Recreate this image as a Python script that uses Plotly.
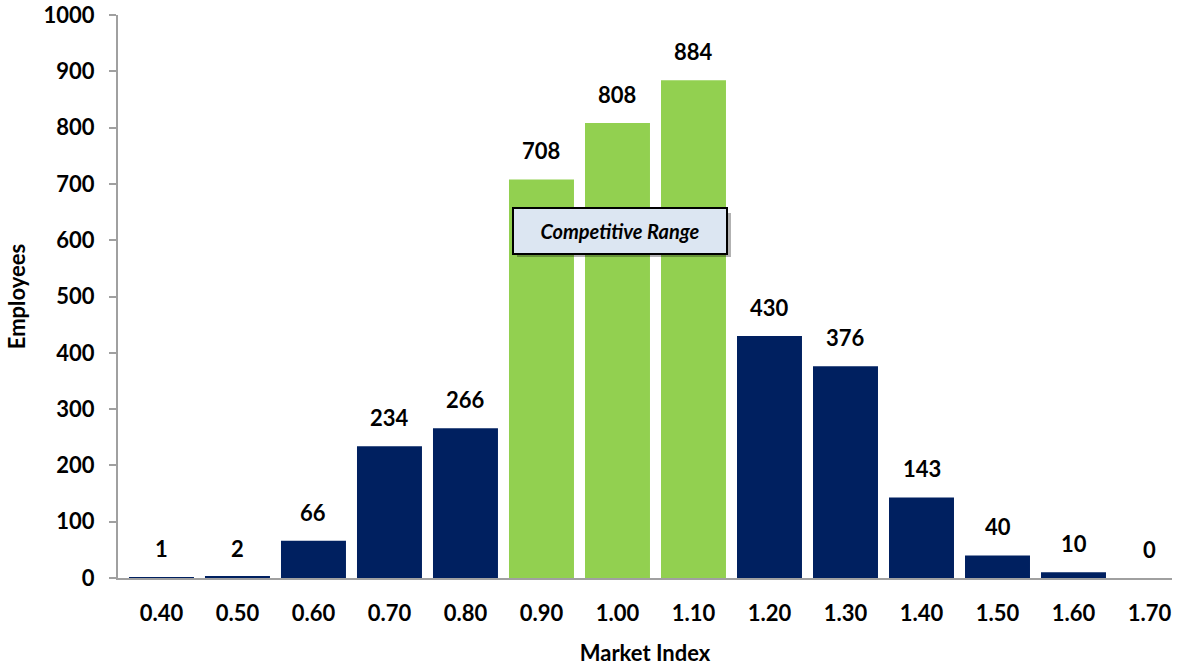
import plotly.graph_objects as go

categories = ["0.40", "0.50", "0.60", "0.70", "0.80", "0.90", "1.00", "1.10",
              "1.20", "1.30", "1.40", "1.50", "1.60", "1.70"]
employees = [1, 2, 66, 234, 266, 708, 808, 884, 430, 376, 143, 40, 10, 0]
competitive = ["0.90", "1.00", "1.10"]
y_ticks = [0, 100, 200, 300, 400, 500, 600, 700, 800, 900, 1000]

NAVY = "#002060"
GREEN = "#92D050"
FONT = "Lato"
AXIS = "#A0A0A0"

colors = [GREEN if c in competitive else NAVY for c in categories]

fig = go.Figure()
fig.add_trace(go.Bar(
    x=categories, y=employees, marker=dict(color=colors, line=dict(width=0)),
    hoverinfo="x+y",
))

for i, v in enumerate(employees):
    fig.add_annotation(x=i, y=v, text=str(v), showarrow=False,
                       yanchor="bottom", yshift=13,
                       font=dict(family=FONT, size=22, color="black", weight="bold"))

# shadow of the label box
fig.add_annotation(xref="paper", yref="paper", x=0.4805, y=0.610,
                   text=" ", showarrow=False, width=212, height=42,
                   bgcolor="rgba(0,0,0,0.30)", borderwidth=0)
fig.add_annotation(xref="paper", yref="paper", x=0.4765, y=0.617,
                   text="Competitive Range", showarrow=False,
                   width=210, height=42, bgcolor="#DCE6F2",
                   bordercolor="black", borderwidth=2,
                   font=dict(family=FONT, size=20, color="black",
                             weight="bold", style="italic"))

tick_font = dict(family=FONT, size=22, color="black", weight="bold")

fig.update_layout(
    width=1180, height=669,
    margin=dict(l=118, r=8, t=15, b=91),
    plot_bgcolor="white", paper_bgcolor="white",
    bargap=0.145, showlegend=False,
    font=dict(family=FONT, size=20, color="black"),
    xaxis=dict(
        type="category", range=[-0.572, 13.296], automargin=False,
        showgrid=False, showline=True, linecolor=AXIS,
        linewidth=2, ticks="", tickfont=tick_font, ticklabelstandoff=15,
        title=dict(text="Market Index", font=tick_font, standoff=20),
    ),
    yaxis=dict(
        range=[0, 1000], tickvals=y_ticks, automargin=False,
        showgrid=False, zeroline=False, showline=True, linecolor=AXIS,
        linewidth=2, ticks="outside", ticklen=7, tickcolor=AXIS, tickwidth=2,
        tickfont=tick_font, ticklabelstandoff=10,
        title=dict(text="Employees", font=tick_font, standoff=12),
    ),
)

fig.write_html("out.html")
